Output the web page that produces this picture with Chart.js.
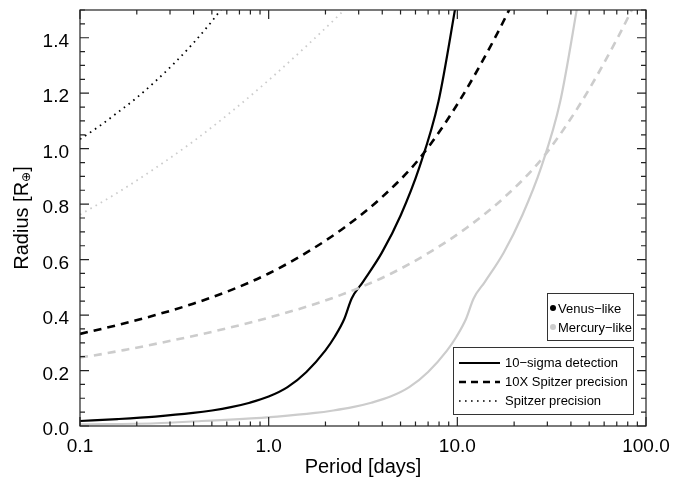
<!DOCTYPE html>
<html>
<head>
<meta charset="utf-8">
<script src="https://cdn.jsdelivr.net/npm/chart.js@4.4.0/dist/chart.umd.min.js"></script>
<style>
  html, body { margin: 0; padding: 0; background: #fff; }
  #wrap { width: 673px; height: 484px; }
</style>
</head>
<body>
<div id="wrap"><canvas id="radiusChart" width="673" height="484"></canvas></div>
<script>
// ============================================================================
// DATA
// ============================================================================

// axis ticks
const periodTicks = [0.1, 1, 10, 100];
const periodLabels = ['0.1', '1.0', '10.0', '100.0'];
const radiusTicks = [0, 0.2, 0.4, 0.6, 0.8, 1.0, 1.2, 1.4];
const radiusLabels = ['0.0', '0.2', '0.4', '0.6', '0.8', '1.0', '1.2', '1.4'];

// Venus-like, 10-sigma detection (solid black)
const venusSigmaP = [0.1, 0.158, 0.251, 0.398, 0.501, 0.631, 0.794, 1.0, 1.259, 1.585, 1.995, 2.239, 2.512, 2.754, 3.162, 3.981, 5.012, 6.31, 7.943, 10.0];
const venusSigmaR = [0.018, 0.025, 0.034, 0.047, 0.056, 0.068, 0.084, 0.106, 0.14, 0.195, 0.272, 0.322, 0.385, 0.46, 0.52, 0.625, 0.76, 0.935, 1.17, 1.55];

// Venus-like, 10X Spitzer precision (dashed black)
const venusTenXP = [0.1, 0.158, 0.251, 0.398, 0.631, 1.0, 1.585, 2.512, 3.981, 6.31, 10.0, 15.85, 19.95];
const venusTenXR = [0.332, 0.364, 0.4, 0.441, 0.49, 0.55, 0.625, 0.715, 0.825, 0.965, 1.16, 1.4, 1.535];

// Venus-like, Spitzer precision (dotted black)
const venusSpitzerP = [0.1, 0.126, 0.158, 0.2, 0.251, 0.316, 0.398, 0.501, 0.631];
const venusSpitzerR = [1.034, 1.08, 1.13, 1.184, 1.243, 1.308, 1.38, 1.46, 1.55];

// Mercury-like, 10-sigma detection (solid grey)
const mercurySigmaP = [0.1, 0.251, 0.44, 0.70, 1.11, 1.76, 2.2, 2.79, 3.5, 4.42, 5.56, 7.0, 8.81, 9.89, 11.1, 12.2, 14.0, 17.6, 22.1, 27.9, 35.1, 44.2];
const mercurySigmaR = [0.006, 0.01, 0.018, 0.025, 0.034, 0.047, 0.056, 0.068, 0.084, 0.106, 0.14, 0.195, 0.272, 0.322, 0.385, 0.46, 0.52, 0.625, 0.76, 0.935, 1.17, 1.55];

// Mercury-like, 10X Spitzer precision (dashed grey)
const mercuryTenXP = [0.1, 0.112, 0.178, 0.282, 0.447, 0.708, 1.122, 1.778, 2.818, 4.467, 7.079, 11.22, 17.78, 28.18, 44.67, 70.79, 89.13];
const mercuryTenXR = [0.248, 0.252, 0.276, 0.303, 0.332, 0.364, 0.4, 0.441, 0.49, 0.55, 0.625, 0.715, 0.825, 0.965, 1.16, 1.4, 1.535];

// Mercury-like, Spitzer precision (dotted grey)
const mercurySpitzerP = [0.1, 0.158, 0.251, 0.398, 0.631, 1.0, 1.585, 2.512, 2.818];
const mercurySpitzerR = [0.762, 0.841, 0.93, 1.026, 1.132, 1.247, 1.37, 1.5, 1.535];

// ============================================================================
// STYLE
// ============================================================================
const BLACK = '#000000';
const GREY = '#cccccc';
const FONT = '"Liberation Sans", Arial, Helvetica, sans-serif';
const SOLID = [];
const DASHED = [8, 6];
const DOTTED = [1.6, 4.4];

function pts(xs, ys) {
    return xs.map((x, i) => ({ x: x, y: ys[i] }));
}

function curve(label, xs, ys, color, dash, width) {
    return {
        label: label,
        data: pts(xs, ys),
        showLine: true,
        borderColor: color,
        backgroundColor: color,
        borderWidth: width,
        borderDash: dash,
        pointRadius: 0,
        cubicInterpolationMode: 'monotone',
        fill: false
    };
}

// ============================================================================
// FRAME, TICKS, LABELS AND LEGENDS (IDL-like, drawn after the datasets)
// ============================================================================
const idlFrame = {
    id: 'idlFrame',
    afterDatasetsDraw(chart) {
        const ctx = chart.ctx;
        const a = chart.chartArea;
        const xs = chart.scales.x;
        const ys = chart.scales.y;
        ctx.save();

        // frame
        ctx.strokeStyle = '#222';
        ctx.lineWidth = 1.2;
        ctx.strokeRect(a.left, a.top, a.right - a.left, a.bottom - a.top);

        // x ticks (bottom and top, pointing inward)
        ctx.beginPath();
        for (let d = 0.1; d < 100; d *= 10) {
            for (let k = 1; k <= 10; k++) {
                const v = d * k;
                if (v > 100.001) continue;
                const px = xs.getPixelForValue(v);
                const len = (k === 1 || k === 10) ? 9 : 4.5;
                ctx.moveTo(px, a.bottom); ctx.lineTo(px, a.bottom - len);
                ctx.moveTo(px, a.top); ctx.lineTo(px, a.top + len);
            }
        }
        // y ticks (left and right), minor every 0.05
        for (let i = 0; i <= 30; i++) {
            const v = i * 0.05;
            const py = ys.getPixelForValue(v);
            const len = (i % 4 === 0) ? 9 : 5;
            ctx.moveTo(a.left, py); ctx.lineTo(a.left + len, py);
            ctx.moveTo(a.right, py); ctx.lineTo(a.right - len, py);
        }
        ctx.stroke();

        // tick labels
        ctx.fillStyle = '#000';
        ctx.font = '19px ' + FONT;
        ctx.textAlign = 'center';
        ctx.textBaseline = 'middle';
        periodTicks.forEach((v, i) => {
            ctx.fillText(periodLabels[i], xs.getPixelForValue(v), a.bottom + 21);
        });
        ctx.textAlign = 'right';
        radiusTicks.forEach((v, i) => {
            ctx.fillText(radiusLabels[i], a.left - 11, ys.getPixelForValue(v) + 4);
        });

        // axis titles
        ctx.font = '20px ' + FONT;
        ctx.textAlign = 'center';
        ctx.fillText('Period [days]', (a.left + a.right) / 2, 467);

        ctx.save();
        ctx.translate(22, (a.top + a.bottom) / 2);
        ctx.rotate(-Math.PI / 2);
        ctx.textAlign = 'left';
        const t1 = 'Radius [R';
        const w1 = ctx.measureText(t1).width;
        ctx.font = '12px "DejaVu Sans", ' + FONT;
        const w2 = ctx.measureText('\u2295').width;
        ctx.font = '20px ' + FONT;
        const w3 = ctx.measureText(']').width;
        let x0 = -(w1 + w2 + w3) / 2;
        ctx.fillText(t1, x0, 0);
        ctx.font = '12px "DejaVu Sans", ' + FONT;
        ctx.fillText('\u2295', x0 + w1, 5);
        ctx.font = '20px ' + FONT;
        ctx.fillText(']', x0 + w1 + w2, 0);
        ctx.restore();

        // legend: planet type
        ctx.fillStyle = '#fff';
        ctx.fillRect(547, 293, 86, 47);
        ctx.strokeStyle = '#333';
        ctx.lineWidth = 1;
        ctx.strokeRect(547.5, 293.5, 86, 47);
        ctx.font = '13px ' + FONT;
        ctx.textAlign = 'left';
        [['Venus\u2212like', BLACK, 309], ['Mercury\u2212like', GREY, 328]].forEach(r => {
            ctx.fillStyle = r[1];
            ctx.beginPath();
            ctx.arc(553, r[2] - 1, 3, 0, Math.PI * 2);
            ctx.fill();
            ctx.fillStyle = '#000';
            ctx.fillText(r[0], 558, r[2]);
        });

        // legend: line styles
        ctx.fillStyle = '#fff';
        ctx.fillRect(453, 347, 180, 67);
        ctx.strokeStyle = '#333';
        ctx.strokeRect(453.5, 347.5, 180, 67);
        [['10\u2212sigma detection', SOLID, 2.2, 363],
         ['10X Spitzer precision', [7, 5], 2.4, 382],
         ['Spitzer precision', DOTTED, 1.6, 401]].forEach(r => {
            ctx.strokeStyle = '#000';
            ctx.lineWidth = r[2];
            ctx.setLineDash(r[1]);
            ctx.beginPath();
            ctx.moveTo(459, r[3]);
            ctx.lineTo(500, r[3]);
            ctx.stroke();
            ctx.setLineDash([]);
            ctx.fillStyle = '#000';
            ctx.fillText(r[0], 505, r[3]);
        });

        ctx.restore();
    }
};

// ============================================================================
// CHART
// ============================================================================
const canvas = document.getElementById('radiusChart');
new Chart(canvas.getContext('2d'), {
    type: 'scatter',
    data: {
        datasets: [
            curve('Mercury 10-sigma', mercurySigmaP, mercurySigmaR, GREY, SOLID, 2.2),
            curve('Mercury 10X Spitzer', mercuryTenXP, mercuryTenXR, GREY, DASHED, 2.6),
            curve('Mercury Spitzer', mercurySpitzerP, mercurySpitzerR, GREY, DOTTED, 1.8),
            curve('Venus 10-sigma', venusSigmaP, venusSigmaR, BLACK, SOLID, 2.2),
            curve('Venus 10X Spitzer', venusTenXP, venusTenXR, BLACK, DASHED, 2.6),
            curve('Venus Spitzer', venusSpitzerP, venusSpitzerR, BLACK, DOTTED, 1.8)
        ]
    },
    options: {
        responsive: false,
        animation: false,
        events: [],
        layout: { padding: { left: 80, right: 27, top: 10, bottom: 58 } },
        plugins: {
            legend: { display: false },
            tooltip: { enabled: false }
        },
        scales: {
            x: { type: 'logarithmic', min: 0.1, max: 100, display: false },
            y: { type: 'linear', min: 0, max: 1.5, display: false }
        }
    },
    plugins: [idlFrame]
});
</script>
</body>
</html>
